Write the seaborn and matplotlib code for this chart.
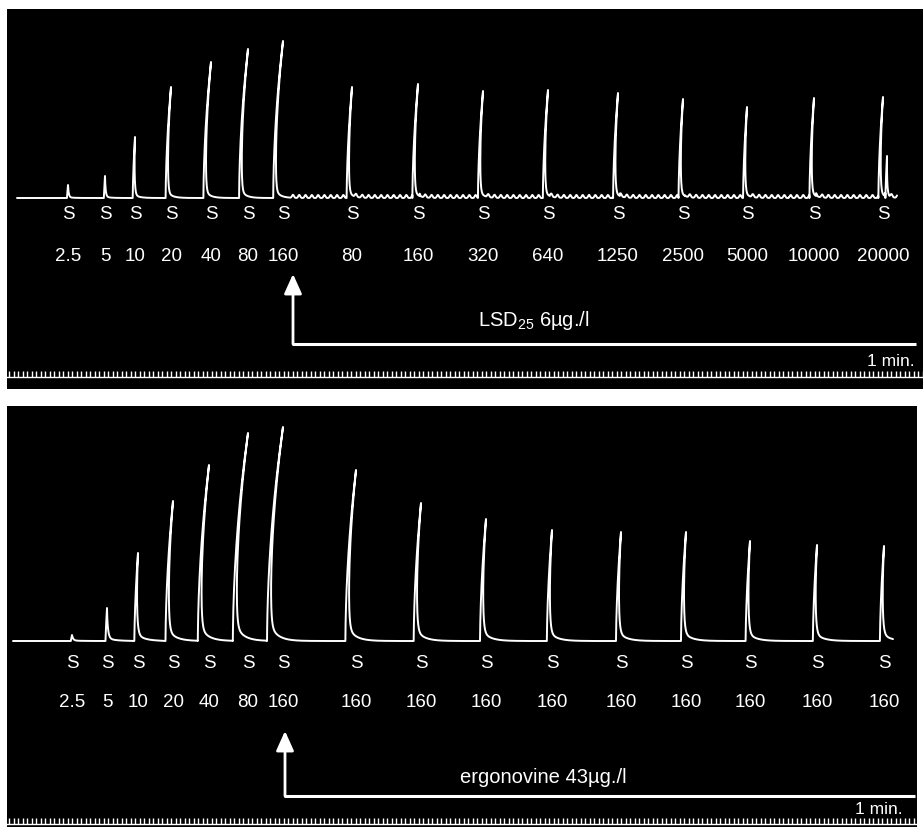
import numpy as np
import pandas as pd
import matplotlib
matplotlib.use("Agg")
import matplotlib.pyplot as plt
import seaborn as sns

# ---------------- data (read from the recording) ----------------
# upper trace: doses of serotonin "S", before and after LSD25
top_labels = ["2.5", "5", "10", "20", "40", "80", "160", "80", "160", "320",
              "640", "1250", "2500", "5000", "10000", "20000"]
top_pos = [68, 105, 135, 171, 211, 248, 283, 352, 418, 483, 548, 618, 683,
           747, 814, 883]
top_amp = [13, 22, 61, 111, 136, 149, 157, 111, 114, 107, 108, 105, 99, 91,
           100, 101]
top_extra_pos = [887]      # small secondary spike on the last contraction
top_extra_amp = [42]

# lower trace: doses before and after ergonovine
bot_labels = ["2.5", "5", "10", "20", "40", "80", "160", "160", "160", "160",
              "160", "160", "160", "160", "160", "160"]
bot_pos = [72, 107, 138, 173, 209, 248, 283, 356, 421, 486, 552, 621, 686,
           750, 817, 884]
bot_amp = [6, 33, 88, 140, 176, 208, 214, 171, 138, 122, 111, 109, 109, 100,
           96, 95]

top_drug = "LSD$_{25}$ 6\u00b5g./l"
bot_drug = "ergonovine 43\u00b5g./l"

# ---------------- style ----------------
sns.set_theme(style="white")
plt.rcParams['font.family'] = ['Liberation Sans', 'DejaVu Sans']
plt.rcParams['mathtext.fontset'] = 'custom'
plt.rcParams['mathtext.rm'] = 'Liberation Sans'
plt.rcParams['mathtext.it'] = 'Liberation Sans'
plt.rcParams['mathtext.bf'] = 'Liberation Sans'

W, H = 923, 828
fig = plt.figure(figsize=(W / 100, H / 100), dpi=100)
fig.patch.set_facecolor("white")


def build_trace(pos, amp, base, x0, x1, R, rise0, fall_fast, tail_frac,
                tail_tau, ripple_from=None, ripple_amp=0.0):
    """Kymograph pen trace: contractions drawn along the pen arc."""
    def arc(a):
        return a ** 2 / (2.0 * R)

    def rip(x):
        if ripple_from is None:
            return np.zeros_like(x)
        r = ripple_amp * (0.5 - 0.5 * np.cos(2 * np.pi * x / 6.3)) ** 2
        return np.where(x > ripple_from, r, 0.0)

    order = np.argsort(pos)
    pos = [pos[i] for i in order]
    amp = [amp[i] for i in order]
    starts = [p - arc(h) - rise0 for p, h in zip(pos, amp)]
    xs, ys = [], []
    cur = x0
    for k, (p, h) in enumerate(zip(pos, amp)):
        ds = starts[k]
        if ds > cur:
            bx = np.arange(cur, ds, 0.25)
            xs.append(bx)
            ys.append(base - rip(bx))
        t = np.linspace(0, 1, 40)
        a = h * t
        xs.append(ds + rise0 * t + arc(a))
        ys.append(base - a)
        nxt = starts[k + 1] if k + 1 < len(pos) else x1
        top_drum = p - arc(h)
        tail_len = max(1.0, min(45.0, nxt - top_drum))
        tau = np.linspace(0, tail_len, int(tail_len * 5) + 20)
        a = h * ((1 - tail_frac) * np.exp(-tau / fall_fast)
                 + tail_frac * np.exp(-tau / tail_tau))
        tx = top_drum + tau + arc(a)
        xs.append(tx)
        ys.append(base - a - rip(tx) * (a < 2))
        cur = top_drum + tail_len
    if cur < x1:
        bx = np.arange(cur, x1, 0.25)
        xs.append(bx)
        ys.append(base - rip(bx))
    x = np.concatenate(xs)
    y = np.concatenate(ys)
    return pd.DataFrame({"x": x, "y": y, "i": np.arange(len(x))})


def panel(rect, xlim, ylim, df, pos, labels, s_y, n_y, arrow_x, arrow_tip,
          line_y, line_end, drug, drug_xy, drug_fs, min_xy, tick_loc):
    ax = fig.add_axes(rect)
    ax.set_facecolor("black")
    sns.lineplot(data=df, x="x", y="y", sort=False, estimator=None,
                 color="white", lw=1.4, ax=ax)
    ax.set_xlim(*xlim)
    ax.set_ylim(*ylim)
    ax.set_xticks([])
    ax.set_yticks([])
    ax.set_xlabel("")
    ax.set_ylabel("")
    for s in ax.spines.values():
        s.set_visible(False)
    for p, lab in zip(pos, labels):
        ax.text(p, s_y, "S", color="white", fontsize=13.5, ha="center",
                va="center")
        ax.text(p, n_y, lab, color="white", fontsize=13.5, ha="center",
                va="center")
    # drug added: arrow + bar
    ax.annotate("", xy=(arrow_x, arrow_tip), xytext=(arrow_x, line_y),
                arrowprops=dict(arrowstyle="-|>,head_length=0.4,head_width=0.18",
                                mutation_scale=30, color="white", lw=2.0,
                                shrinkA=0, shrinkB=0))
    ax.plot([arrow_x - 1, line_end], [line_y, line_y], color="white", lw=2.2,
            solid_capstyle="butt")
    ax.text(drug_xy[0], drug_xy[1], drug, color="white", fontsize=drug_fs,
            ha="left", va="center")
    ax.text(min_xy[0], min_xy[1], "1 min.", color="white", fontsize=12.5,
            ha="right", va="center")
    # time-marker strip
    sec = ax.secondary_xaxis(tick_loc)
    sec.set_xticks(np.arange(xlim[0] + 2, xlim[1], 4.5))
    sec.tick_params(direction="in", length=4, width=1.0, colors="white",
                    labelbottom=False, labeltop=False, bottom=True)
    for s in sec.spines.values():
        s.set_color("white")
        s.set_linewidth(1.0)
    return ax


# upper panel
df_top = build_trace(top_pos + top_extra_pos, top_amp + top_extra_amp,
                     base=199, x0=17, x1=897, R=1400, rise0=1.0,
                     fall_fast=0.8, tail_frac=0.06, tail_tau=5,
                     ripple_from=290, ripple_amp=3.0)
panel([7 / W, (H - 390) / H, 916 / W, 380 / H], (7, 923), (390, 10),
      df_top, top_pos, top_labels, s_y=215, n_y=257, arrow_x=293,
      arrow_tip=275, line_y=345, line_end=916, drug=top_drug, drug_fs=14.5,
      drug_xy=(478, 321), min_xy=(915, 362), tick_loc=12 / 380)

# lower panel
df_bot = build_trace(bot_pos, bot_amp, base=642, x0=13, x1=893, R=1550,
                     rise0=1.2, fall_fast=1.2, tail_frac=0.09, tail_tau=8)
panel([7 / W, 0, 910 / W, 421 / H], (7, 917), (828, 407),
      df_bot, bot_pos, bot_labels, s_y=664, n_y=703, arrow_x=285,
      arrow_tip=732, line_y=797, line_end=915, drug=bot_drug, drug_fs=14.5,
      drug_xy=(460, 778), min_xy=(903, 810), tick_loc=3 / 421)

fig.savefig("out.png", dpi=100, facecolor="white")
